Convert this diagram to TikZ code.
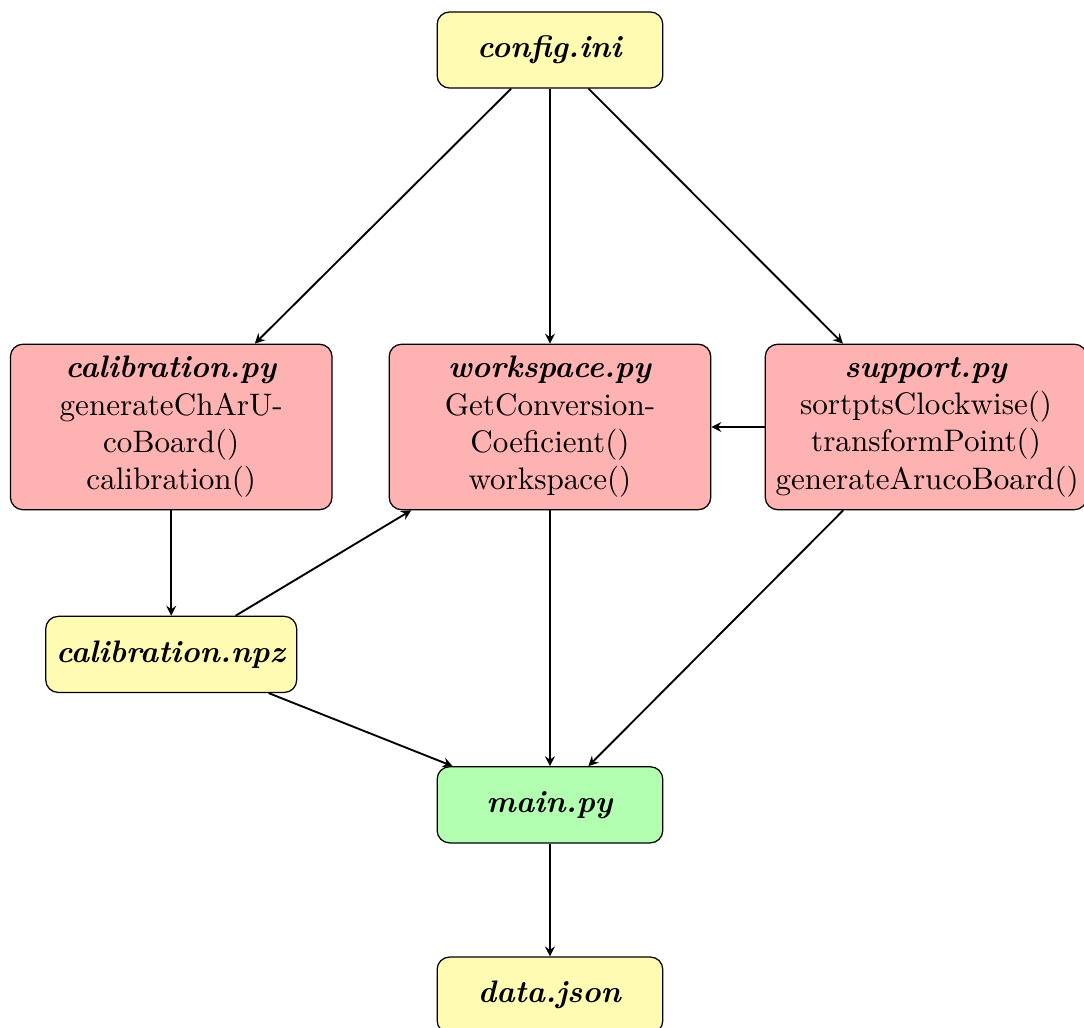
\documentclass[tikz,border=0pt]{standalone}
\usetikzlibrary{arrows.meta}

\def\colShift{4.28}
\def\rowCode{-4.26}
\newcommand{\fname}[1]{\textbf{\textit{#1}}}

\begin{document}
\begin{tikzpicture}[
    filebox/.style={draw, rounded corners=4pt, fill=yellow!30,
      minimum width=2.55cm, minimum height=0.86cm},
    codebox/.style={draw, rounded corners=4pt, fill=red!30,
      text width=3.4cm, align=center, minimum height=1.87cm},
    mainbox/.style={filebox, fill=green!30},
    flow/.style={-{Stealth[length=3.2pt, width=3.2pt, inset=1.1pt]}, semithick}
  ]
      \useasboundingbox (-6.215,-11.041) rectangle (6.035,0.565);

      % Files and modules
      \node[filebox] (config) at (0,0) {\fname{config.ini}};

      \node[codebox] (calib) at (-\colShift,\rowCode)
        {\fname{calibration.py}\\generateChArU-\\coBoard()\\calibration()};
      \node[codebox] (work) at (0,\rowCode)
        {\fname{workspace.py}\\GetConversion-\\Coeficient()\\workspace()};
      \node[codebox] (support) at (4.25,\rowCode)
        {\fname{support.py}\\sortptsClockwise()\\transformPoint()\\generateArucoBoard()};

      \node[filebox] (npz) at (-\colShift,-6.83) {\fname{calibration.npz}};
      \node[mainbox] (main) at (0,-8.53) {\fname{main.py}};
      \node[filebox] (data) at (0,-10.68) {\fname{data.json}};

      % Arrows
      \draw[flow] (config) -- (calib);
      \draw[flow] (config) -- (work);
      \draw[flow] (config) -- (support);
      \draw[flow] (support) -- (work);
      \draw[flow] (calib) -- (npz);
      \draw[flow] (npz) -- (work);
      \draw[flow] (npz) -- (main);
      \draw[flow] (work) -- (main);
      \draw[flow] (support) -- (main);
      \draw[flow] (main) -- (data);
\end{tikzpicture}
\end{document}
